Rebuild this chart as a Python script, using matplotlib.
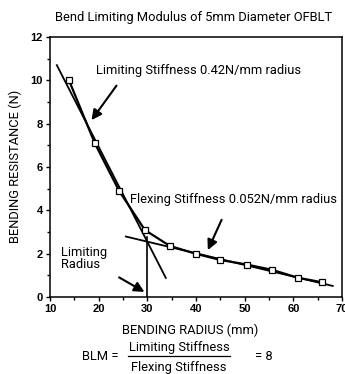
import matplotlib
matplotlib.use("Agg")
import matplotlib.pyplot as plt
from matplotlib.lines import Line2D

# Data
radius = [13.9, 19.2, 24.2, 29.5, 34.6, 39.9, 45.0, 50.4, 55.7, 60.9, 65.9]
resistance = [10.0, 7.1, 4.9, 3.09, 2.36, 2.0, 1.71, 1.5, 1.25, 0.89, 0.68]
limiting_line_x = [11.4, 33.8]
limiting_line_y = [10.7, 0.88]
flexing_line_x = [25.6, 68.1]
flexing_line_y = [2.79, 0.51]
limit_radius = 30
limit_radius_top = 2.75
xticks = [10, 20, 30, 40, 50, 60, 70]
yticks = [0, 2, 4, 6, 8, 10, 12]

FONT = ["Roboto", "DejaVu Sans"]
FS = 9.3

W, H = 345, 374
fig = plt.figure(figsize=(W / 100, H / 100), dpi=100)
ax = fig.add_axes([50 / W, 1 - 297 / H, 292 / W, 260 / H])

ax.plot(radius, resistance, color="black", lw=1.6, marker="s", ms=4.2,
        mfc="white", mec="black", mew=0.9, zorder=3)
ax.plot(limiting_line_x, limiting_line_y, color="black", lw=1.3, zorder=2)
ax.plot(flexing_line_x, flexing_line_y, color="black", lw=1.3, zorder=2)
ax.plot([limit_radius, limit_radius], [0, limit_radius_top], color="black", lw=1.2)

ax.set_xlim(10, 70)
ax.set_ylim(0, 12)
tickfont = dict(family="Liberation Sans", size=8, weight="bold")
ax.set_xticks(xticks)
ax.set_xticklabels([str(v) for v in xticks], fontdict=tickfont)
ax.set_yticks(yticks)
ax.set_yticklabels([str(v) for v in yticks], fontdict=tickfont)
ax.set_xticks(range(15, 70, 10), minor=True)
ax.set_yticks(range(1, 12, 2), minor=True)
ax.tick_params(axis="both", which="major", direction="out", length=3, width=1, pad=2)
ax.tick_params(axis="both", which="minor", direction="out", length=2, width=1)
for s in ax.spines.values():
    s.set_linewidth(1.1)

arrow = dict(arrowstyle="-|>,head_length=0.6,head_width=0.3", color="black", lw=1.5)
ax.annotate("", xy=(18.2, 8.06), xytext=(24.0, 9.86), arrowprops=arrow)
ax.annotate("", xy=(42.2, 2.05), xytext=(45.5, 3.68), arrowprops=arrow)
ax.annotate("", xy=(29.9, 0.17), xytext=(23.7, 0.97), arrowprops=arrow)

ax.text(19.4, 10.46, "Limiting Stiffness 0.42N/mm radius", family=FONT,
        fontsize=FS, va="center", ha="left")
ax.text(26.4, 4.52, "Flexing Stiffness 0.052N/mm radius", family=FONT,
        fontsize=FS, va="center", ha="left")
ax.text(12.3, 1.78, "Limiting\nRadius", family=FONT, fontsize=FS,
        va="center", ha="left", linespacing=0.95)

fig.text(194 / W, 1 - 18 / H, "Bend Limiting Modulus of 5mm Diameter OFBLT",
         family=FONT, fontsize=FS, ha="center", va="center")
fig.text(190 / W, 1 - 330 / H, "BENDING RADIUS (mm)", family=FONT,
         fontsize=FS, ha="center", va="center")
fig.text(15 / W, 1 - 166 / H, "BENDING RESISTANCE (N)", family=FONT,
         fontsize=FS, ha="center", va="center", rotation=90)

fig.text(100 / W, 1 - 357 / H, "BLM =", family=FONT, fontsize=FS,
         ha="center", va="center")
fig.text(179 / W, 1 - 348 / H, "Limiting Stiffness", family=FONT,
         fontsize=FS, ha="center", va="center")
fig.text(179 / W, 1 - 367 / H, "Flexing Stiffness", family=FONT,
         fontsize=FS, ha="center", va="center")
fig.text(264 / W, 1 - 357 / H, "= 8", family=FONT, fontsize=FS,
         ha="center", va="center")
fig.add_artist(Line2D([128 / W, 230 / W], [1 - 356 / H, 1 - 356 / H],
                      color="black", lw=0.9, transform=fig.transFigure))

fig.savefig("out.png", dpi=100)
